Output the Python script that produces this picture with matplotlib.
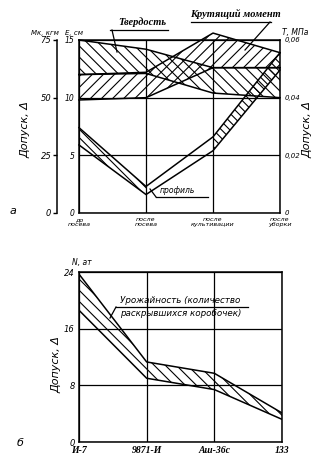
import numpy as np
import matplotlib
matplotlib.use('Agg')
import matplotlib.pyplot as plt

plt.rcParams['hatch.linewidth'] = 0.8
plt.rcParams['font.family'] = ['DejaVu Sans']

# --- panel a: tolerances by stage (values in E-scale units 0..15) ---
stages = ['до\nпосева', 'после\nпосева', 'после\nкультивации', 'после\nуборки']
hard_hi = [15.0, 14.2, 12.6, 12.6]
hard_lo = [12.0, 12.1, 10.4, 10.0]
torque_hi = [12.0, 12.2, 15.6, 13.9]
torque_lo = [9.8, 10.0, 12.6, 12.6]
profile_hi = [7.4, 2.3, 6.6, 13.9]
profile_lo = [5.9, 1.6, 5.4, 12.4]

e_ticks = [0, 5, 10, 15]
mk_ticks = [0, 25, 50, 75]
t_ticks = [0, 0.02, 0.04, 0.06]
t_labels = ['0', '0,02', '0,04', '0,06']

# --- panel b: tolerance by variety ---
varieties = ['И-7', '9871-И', 'Аш-36с', '133']
yield_hi = [23.7, 11.3, 9.7, 4.1]
yield_lo = [18.6, 9.0, 7.4, 3.2]
n_ticks = [0, 8, 16, 24]

W, H = 322, 468
fig = plt.figure(figsize=(W / 100, H / 100), dpi=100)

def frac(x0, y0, x1, y1):
    return [x0 / W, 1 - y1 / H, (x1 - x0) / W, (y1 - y0) / H]

def seg(xs, ys):
    # helper line in figure pixel coords (annotations, leaders)
    fig.lines.append(plt.Line2D([v / W for v in xs], [1 - v / H for v in ys],
                                color='black', lw=0.9, transform=fig.transFigure))

it = dict(style='italic', color='black')

# ---------------- top panel ----------------
ax = fig.add_axes(frac(79, 40, 280, 213))
x = np.arange(len(stages))
ax.set_xlim(0, 3)
ax.set_ylim(0, 15)
for s in ax.spines.values():
    s.set_linewidth(1.1)
ax.grid(True, color='black', lw=0.9)
ax.set_xticks(x)
ax.set_xticklabels(stages, fontsize=4.6, **it, linespacing=0.9)
ax.set_yticks(e_ticks)
ax.set_yticklabels([str(v) for v in e_ticks], fontsize=5.5, **it)
ax.tick_params(length=0, pad=3)

kw = dict(facecolor='none', edgecolor='black', linewidth=0, clip_on=False)
ax.fill_between(x, hard_lo, hard_hi, hatch='\\\\\\', **kw)
ax.fill_between(x, torque_lo, torque_hi, hatch='///', **kw)
ax.fill_between(x[:2], profile_lo[:2], profile_hi[:2], hatch='\\\\\\\\', **kw)
ax.fill_between(x[2:], profile_lo[2:], profile_hi[2:], hatch='\\\\\\\\', **kw)
for ys in (hard_hi, hard_lo, torque_hi, torque_lo, profile_hi, profile_lo):
    ax.plot(x, ys, color='black', lw=1.1, clip_on=False)

# right scale T, MPa
axr = ax.twinx()
axr.set_ylim(0, 0.06)
axr.set_yticks(t_ticks)
axr.set_yticklabels(t_labels, fontsize=5, **it)
axr.tick_params(length=0, pad=3)
for s in axr.spines.values():
    s.set_visible(False)

# outer left scale Mk
axm = fig.add_axes(frac(57, 40, 57.5, 213))
axm.set_ylim(0, 75)
axm.set_yticks(mk_ticks)
axm.set_yticklabels([str(v) for v in mk_ticks], fontsize=6, **it)
axm.tick_params(axis='y', direction='out', length=3, width=1, pad=1)
axm.set_xticks([])
axm.patch.set_visible(False)
for k in ('top', 'right', 'bottom'):
    axm.spines[k].set_visible(False)
axm.spines['left'].set_linewidth(1.1)

fig.text(31 / W, 1 - 33 / H, 'Мк, кгм', fontsize=5, **it, va='center')
fig.text(65 / W, 1 - 33 / H, 'Е, см', fontsize=5, **it, va='center')
fig.text(282 / W, 1 - 32 / H, 'Т, МПа', fontsize=5.5, **it, va='center')
fig.text(25 / W, 1 - 130 / H, 'Допуск, Δ', fontsize=8, rotation=90, **it,
         ha='center', va='center')
fig.text(307 / W, 1 - 130 / H, 'Допуск, Δ', fontsize=8, rotation=90, **it,
         ha='center', va='center')
fig.text(13 / W, 1 - 211 / H, 'а', fontsize=8, **it, ha='center', va='center')

# band labels
lab = dict(fontsize=7.5, family='Liberation Serif', weight='bold', style='italic',
           ha='left', va='bottom')
fig.text(118 / W, 1 - 27 / H, 'Твердость', **lab)
seg([110, 168], [30, 30])
seg([112, 117], [30, 52])
fig.text(190 / W, 1 - 19 / H, 'Крутящий момент', **lab)
seg([191, 271], [22, 22])
seg([270, 245], [22, 50])
fig.text(160 / W, 1 - 195 / H, 'профиль', fontsize=5.5, **it, ha='left', va='bottom')
seg([156, 208], [197, 197])
seg([156, 150], [197, 189])

# ---------------- bottom panel ----------------
bx = fig.add_axes(frac(79, 272, 282, 442))
xb = np.arange(len(varieties))
bx.set_xlim(0, 3)
bx.set_ylim(0, 24)
for s in bx.spines.values():
    s.set_linewidth(1.1)
bx.grid(True, color='black', lw=0.9)
bx.set_xticks(xb)
bx.set_xticklabels(varieties, fontsize=7, family='Liberation Serif',
                   weight='bold', style='italic')
bx.set_yticks(n_ticks)
bx.set_yticklabels([str(v) for v in n_ticks], fontsize=6, **it)
bx.tick_params(length=0, pad=3)
bx.fill_between(xb, yield_lo, yield_hi, hatch='\\\\\\', **kw)
bx.plot(xb, yield_hi, color='black', lw=1.1)
bx.plot(xb, yield_lo, color='black', lw=1.1)

fig.text(72 / W, 1 - 263 / H, 'N, ат', fontsize=5.5, **it, va='center')
fig.text(56 / W, 1 - 365 / H, 'Допуск, Δ', fontsize=8, rotation=90, **it,
         ha='center', va='center')
fig.text(20 / W, 1 - 443 / H, 'б', fontsize=8, **it, ha='center', va='center')

fig.text(120 / W, 1 - 305 / H, 'Урожайность (количество', fontsize=6.3, **it,
         ha='left', va='bottom')
fig.text(120 / W, 1 - 309 / H, 'раскрывшихся коробочек)', fontsize=6.3, **it,
         ha='left', va='top')
seg([116, 248], [307, 307])
seg([116, 110], [307, 318])

fig.savefig('out.png', dpi=100, facecolor='white')
